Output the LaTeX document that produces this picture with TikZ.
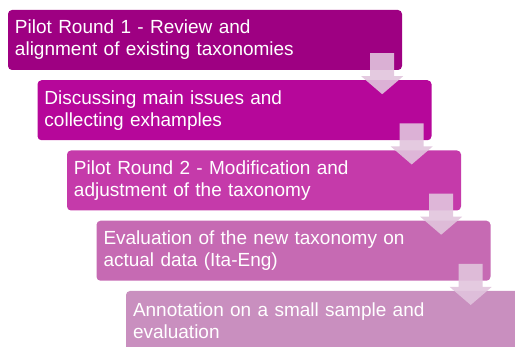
\documentclass[tikz,border=0pt]{standalone}
\usepackage{fontspec}
\setmainfont{Liberation Sans}
\usetikzlibrary{positioning, calc}

\definecolor{stepA}{HTML}{9E0082}
\definecolor{stepB}{HTML}{B6079A}
\definecolor{stepC}{HTML}{C53AAA}
\definecolor{stepD}{HTML}{C66AB3}
\definecolor{stepE}{HTML}{C98FBF}
\definecolor{arrowfill}{HTML}{E1C4DD}

\begin{document}
\begin{tikzpicture}[x=1pt, y=1pt, node distance=70.25pt and 29.5pt, on grid]
    \tikzset{
        stepbox/.style={rectangle, rounded corners=4pt, minimum width=394pt, minimum height=60pt,
            text width=380pt, inner xsep=7pt, align=left, text=white,
            font=\fontsize{19}{22}\selectfont},
        blockarrow/.style={fill=arrowfill, fill opacity=0.9}
    }
    \useasboundingbox (0,0) rectangle (515,347);

    \node[stepbox, fill=stepA] (s1) at (205,307) {Pilot Round 1 - Review and\\alignment of existing taxonomies};
    \node[stepbox, fill=stepB] (s2) [below right=of s1] {Discussing main issues and\\collecting exhamples};
    \node[stepbox, fill=stepC] (s3) [below right=of s2] {Pilot Round 2 - Modification and\\adjustment of the taxonomy};
    \node[stepbox, fill=stepD] (s4) [below right=of s3] {Evaluation of the new taxonomy on\\actual data (Ita-Eng)};
    \node[stepbox, fill=stepE] (s5) [below right=of s4] {Annotation on a small sample and\\evaluation};

    % down arrows between the steps
    \foreach \a in {s1, s2, s3, s4}
        \fill[blockarrow] ($(\a.south east)+(-32,17)$) -- ++(24,0) -- ++(0,-23) -- ++(9,0)
            -- ($(\a.south east)+(-20,-24)$) -- ++(-21,18) -- ++(9,0) -- cycle;

\end{tikzpicture}
\end{document}
